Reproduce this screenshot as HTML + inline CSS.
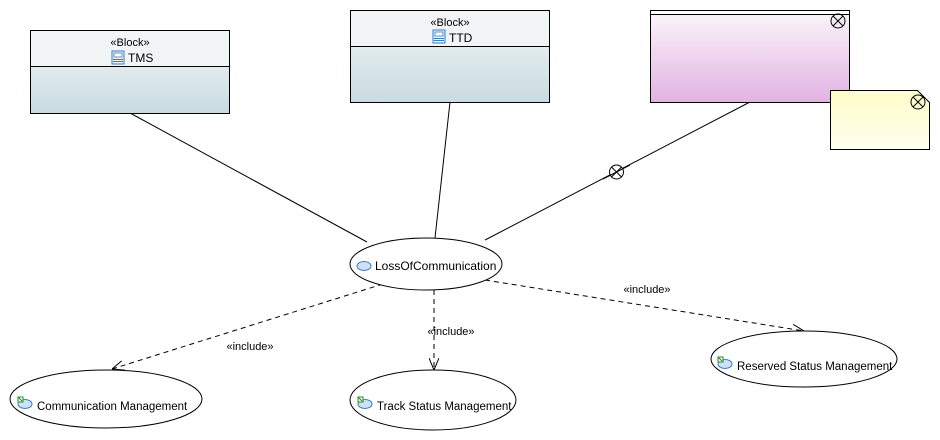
<!DOCTYPE html>
<html><head><meta charset="utf-8"><style>
html,body{margin:0;padding:0;background:#fff;}
svg{display:block;font-family:"Liberation Sans","DejaVu Sans",sans-serif;}
</style></head><body>
<svg width="940" height="440" viewBox="0 0 940 440" xmlns="http://www.w3.org/2000/svg">
<defs>
<linearGradient id="blk" x1="0" y1="0" x2="0" y2="1"><stop offset="0" stop-color="#f4f7f8"/><stop offset="1" stop-color="#c9dbe1"/></linearGradient>
<linearGradient id="pink" x1="0" y1="0" x2="0" y2="1"><stop offset="0" stop-color="#fbf6fb"/><stop offset="1" stop-color="#e2b2e2"/></linearGradient>
<linearGradient id="note" x1="0" y1="0" x2="0" y2="1"><stop offset="0" stop-color="#fffdc8"/><stop offset="1" stop-color="#fffff0"/></linearGradient>
<marker id="ar" viewBox="0 0 12 10" refX="12" refY="5" markerWidth="12" markerHeight="10" markerUnits="userSpaceOnUse" orient="auto"><path d="M0,0 L12,5 L0,10" fill="none" stroke="#000" stroke-width="1"/></marker>
<g id="bicon"><rect x="0" y="0" width="12" height="13" fill="#e8f2fb" stroke="#3a7bbf" stroke-width="1"/><rect x="2" y="2" width="8" height="4" fill="#fff" stroke="#3a7bbf" stroke-width="0.8"/><line x1="1" y1="8.5" x2="11" y2="8.5" stroke="#3a7bbf"/><line x1="1" y1="10.5" x2="11" y2="10.5" stroke="#3a7bbf"/></g>
<g id="uc"><ellipse cx="7" cy="6" rx="7" ry="4.5" fill="#cfe2f3" stroke="#3a7bbf"/></g>
<g id="uci"><ellipse cx="8" cy="7" rx="7" ry="4.5" fill="#cfe2f3" stroke="#3a7bbf"/><rect x="1" y="0" width="5" height="5" fill="#fff" stroke="#2a8a2a" stroke-width="1"/><line x1="1" y1="0" x2="5" y2="4" stroke="#2a8a2a"/></g>
</defs>

<!-- solid associations -->
<line x1="130" y1="113" x2="367" y2="242" stroke="#000"/>
<line x1="450" y1="102" x2="435" y2="238" stroke="#000"/>
<line x1="750" y1="102" x2="485" y2="240" stroke="#000"/>
<circle cx="616.5" cy="172" r="7" fill="#fff" stroke="#000"/>
<line x1="611.5" y1="167" x2="621.5" y2="177" stroke="#000"/><line x1="621.5" y1="167" x2="611.5" y2="177" stroke="#000"/>
<line x1="603" y1="179" x2="630" y2="165" stroke="#000"/>

<!-- TMS block -->
<rect x="30.5" y="30.5" width="199" height="83" fill="url(#blk)" stroke="#000"/>
<rect x="31" y="31" width="198" height="35" fill="#f1f5f6"/>
<line x1="30" y1="66.5" x2="230" y2="66.5" stroke="#000"/>
<text x="130" y="46" font-size="11" text-anchor="middle">«Block»</text>
<use href="#bicon" x="112" y="51"/>
<text x="128" y="62" font-size="12">TMS</text>

<!-- TTD block -->
<rect x="350.5" y="10.5" width="199" height="92" fill="url(#blk)" stroke="#000"/>
<rect x="351" y="11" width="198" height="35" fill="#f1f5f6"/>
<line x1="350" y1="46.5" x2="550" y2="46.5" stroke="#000"/>
<text x="450" y="26" font-size="11" text-anchor="middle">«Block»</text>
<use href="#bicon" x="433" y="30"/>
<text x="449" y="42" font-size="12">TTD</text>

<!-- pink -->
<rect x="650.5" y="10.5" width="199" height="92" fill="url(#pink)" stroke="#000"/>
<rect x="651" y="11" width="198" height="3" fill="#fff"/>
<line x1="650" y1="14.5" x2="850" y2="14.5" stroke="#000"/>
<circle cx="838" cy="21" r="7" fill="none" stroke="#000"/>
<line x1="833" y1="16" x2="843" y2="26" stroke="#000"/><line x1="843" y1="16" x2="833" y2="26" stroke="#000"/>

<!-- note -->
<path d="M830.5,90.5 L917.5,90.5 L929.5,102.5 L929.5,149.5 L830.5,149.5 Z" fill="url(#note)" stroke="#000"/>
<circle cx="918" cy="102" r="7" fill="none" stroke="#000"/>
<line x1="913" y1="97" x2="923" y2="107" stroke="#000"/><line x1="923" y1="97" x2="913" y2="107" stroke="#000"/>

<!-- dashed includes -->
<g stroke="#000" stroke-dasharray="5,4" fill="none">
<line x1="383" y1="284" x2="112" y2="369" marker-end="url(#ar)"/>
<line x1="434" y1="290" x2="434" y2="370" marker-end="url(#ar)"/>
<line x1="485" y1="280" x2="804" y2="331" marker-end="url(#ar)"/>
</g>
<text x="250" y="350" font-size="11" text-anchor="middle">«include»</text>
<text x="451" y="335" font-size="11" text-anchor="middle">«include»</text>
<text x="647" y="293" font-size="11" text-anchor="middle">«include»</text>

<!-- use cases -->
<ellipse cx="426" cy="264" rx="76" ry="26" fill="#fff" stroke="#000"/>
<use href="#uc" x="357" y="260"/>
<text x="375" y="270" font-size="12">LossOfCommunication</text>

<ellipse cx="106" cy="399" rx="96" ry="29" fill="#fff" stroke="#000"/>
<use href="#uci" x="17" y="397"/>
<text x="37" y="410" font-size="11.5">Communication Management</text>

<ellipse cx="433" cy="400" rx="83" ry="30" fill="#fff" stroke="#000"/>
<use href="#uci" x="357" y="397"/>
<text x="377" y="410" font-size="11.5">Track Status Management</text>

<ellipse cx="804" cy="359" rx="93" ry="28" fill="#fff" stroke="#000"/>
<use href="#uci" x="717" y="357"/>
<text x="737" y="370" font-size="11.5">Reserved Status Management</text>
</svg>
</body></html>
